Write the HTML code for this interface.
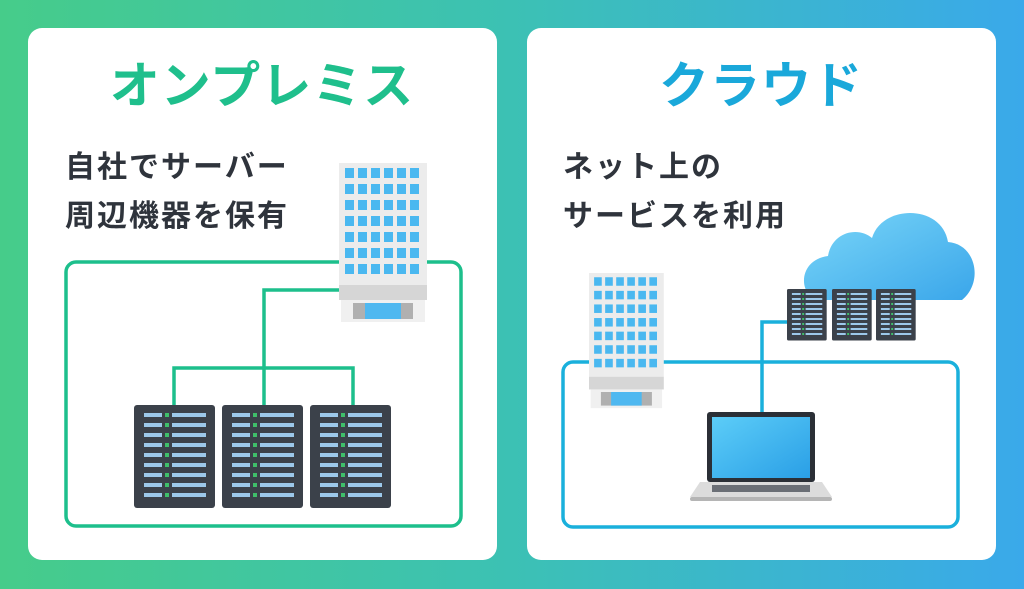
<!DOCTYPE html>
<html><head><meta charset="utf-8"><style>
html,body{margin:0;padding:0;width:1024px;height:589px;overflow:hidden}
svg{display:block}
text{font-family:"Liberation Sans","Noto Sans CJK JP",sans-serif;font-weight:bold}
</style></head><body>
<svg width="1024" height="589" viewBox="0 0 1024 589" xmlns="http://www.w3.org/2000/svg">
<defs>
<linearGradient id="bg" x1="0" y1="0" x2="1" y2="0"><stop offset="0" stop-color="#46cc8a"/><stop offset="0.5" stop-color="#3cc1b4"/><stop offset="1" stop-color="#3aa9ea"/></linearGradient>
<linearGradient id="cl" x1="0" y1="0" x2="1" y2="1"><stop offset="0" stop-color="#7ad6f8"/><stop offset="1" stop-color="#3aa6ea"/></linearGradient>
<linearGradient id="scr" x1="0" y1="0" x2="1" y2="1"><stop offset="0" stop-color="#5ccdf8"/><stop offset="1" stop-color="#2a9fe6"/></linearGradient>
<g id="bld">
<rect x="0" y="0" width="88" height="122" fill="#ececec"/>
<rect x="0" y="122" width="88" height="15" fill="#d6d6d6"/>
<rect x="2" y="137" width="84" height="22" fill="#f0f0f0"/>
<rect x="14" y="140" width="60" height="16" fill="#b0b0b0"/>
<rect x="26" y="140" width="36" height="16" fill="#4fb8f0"/>
</g>
<g id="wins" fill="#4ab8f0">
<rect x="6" y="5" width="9" height="10"/><rect x="19" y="5" width="9" height="10"/><rect x="32" y="5" width="9" height="10"/><rect x="45" y="5" width="9" height="10"/><rect x="58" y="5" width="9" height="10"/><rect x="71" y="5" width="9" height="10"/>
</g>
<g id="rrow"><rect x="10" y="8" width="18" height="4" fill="#9cc8ea"/><rect x="31" y="8" width="4" height="4" fill="#3fbf6a"/><rect x="38" y="8" width="34" height="4" fill="#9cc8ea"/></g>
<g id="rk">
<rect width="81" height="103" rx="3" fill="#3b414a"/>
<use href="#rrow"/><use href="#rrow" y="10"/><use href="#rrow" y="20"/><use href="#rrow" y="30"/><use href="#rrow" y="40"/><use href="#rrow" y="50"/><use href="#rrow" y="60"/><use href="#rrow" y="70"/><use href="#rrow" y="80"/>
</g>
</defs>
<rect width="1024" height="589" fill="url(#bg)"/>
<rect x="28" y="28" width="469" height="532" rx="14" fill="#fff"/>
<rect x="527" y="28" width="469" height="532" rx="14" fill="#fff"/>
<text x="262" y="103" font-size="50" fill="#1fbf8c" text-anchor="middle" letter-spacing="1">オンプレミス</text>
<text x="761" y="103" font-size="50" fill="#1aa8da" text-anchor="middle" letter-spacing="1">クラウド</text>
<g font-size="30" fill="#2f343c" letter-spacing="2">
<text x="65" y="177">自社でサーバー</text>
<text x="65" y="226">周辺機器を保有</text>
<text x="563" y="177">ネット上の</text>
<text x="563" y="226">サービスを利用</text>
</g>
<g fill="none" stroke="#1dbf8c" stroke-width="3.5">
<rect x="66" y="262" width="395" height="264" rx="10"/>
<path d="M340 290 H264 V405 M174 405 V368 H353 V405"/>
</g>
<g transform="translate(339,163)">
<use href="#bld"/>
<use href="#wins"/><use href="#wins" y="16"/><use href="#wins" y="32"/><use href="#wins" y="48"/><use href="#wins" y="64"/><use href="#wins" y="80"/><use href="#wins" y="96"/>
</g>
<use href="#rk" transform="translate(134,405)"/>
<use href="#rk" transform="translate(222,405)"/>
<use href="#rk" transform="translate(310,405)"/>
<g fill="none" stroke="#1ab0dc" stroke-width="3.5">
<rect x="563" y="362" width="395" height="165" rx="10"/>
<path d="M787 322 H762 V412"/>
</g>
<g transform="translate(589,273) scale(0.85)">
<use href="#bld"/>
<use href="#wins"/><use href="#wins" y="16"/><use href="#wins" y="32"/><use href="#wins" y="48"/><use href="#wins" y="64"/><use href="#wins" y="80"/><use href="#wins" y="96"/>
</g>
<path d="M822 300 C798 300 796 260 828 256 C832 232 858 226 872 238 C882 204 942 204 948 242 C976 244 984 282 962 300 Z" fill="url(#cl)"/>
<use href="#rk" transform="translate(787,289) scale(0.49,0.5)"/>
<use href="#rk" transform="translate(832,289) scale(0.49,0.5)"/>
<use href="#rk" transform="translate(876,289) scale(0.49,0.5)"/>
<rect x="707" y="412" width="108" height="70" rx="3" fill="#2b2f36"/>
<rect x="712" y="417" width="98" height="61" fill="url(#scr)"/>
<path d="M700 482 H822 L832 497 H690 Z" fill="#dcdcdc"/>
<rect x="712" y="485" width="98" height="7" fill="#6b6f76"/>
<rect x="690" y="497" width="142" height="4" rx="2" fill="#b5b5b5"/>
</svg>
</body></html>
